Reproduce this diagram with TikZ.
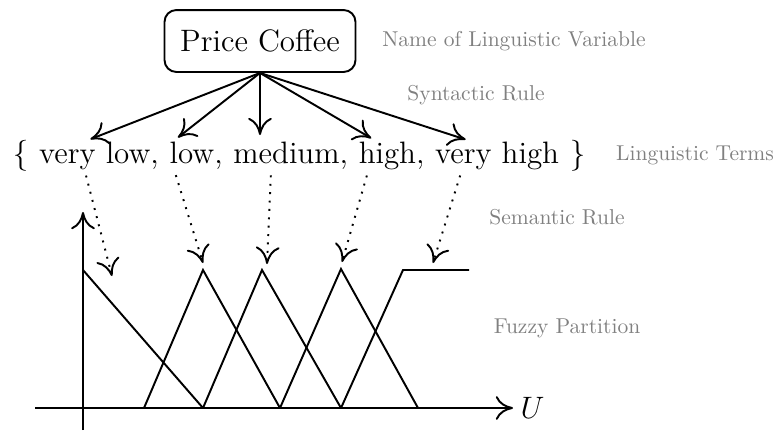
\documentclass[tikz,border=0pt]{standalone}
\usetikzlibrary{arrows.meta, positioning, calc}
\definecolor{LabelGray}{HTML}{808080}

\begin{document}
\begin{tikzpicture}[x=0.465pt, y=-0.465pt,
    varbox/.style={rectangle, rounded corners=5.5pt, draw, line width=0.9pt,
                   minimum width=88.8pt, minimum height=28.8pt, font=\Large},
    term/.style={inner sep=0pt, outer sep=0pt, font=\Large},
    note/.style={font=\normalsize, text=LabelGray},
    arr/.style={-{To[length=8pt, width=11pt]}, line width=0.9pt},
    syn/.style={arr, shorten >=3pt},
    sem/.style={arr, dash pattern=on 0.9pt off 3pt, shorten <=3pt},
    mf/.style={line width=0.9pt},
    node distance=5pt
  ]
    \useasboundingbox (0,0) rectangle (782,432);

    % linguistic variable
    \node[varbox] (coffee) at (260,41) {Price Coffee};

    % terms
    \node[term, anchor=base west] (lbr) at (13,163) {\{};
    \node[term, base right=of lbr] (vlow) {very low,};
    \node[term, base right=of vlow] (low) {low,};
    \node[term, base right=of low] (med) {medium,};
    \node[term, base right=of med] (high) {high,};
    \node[term, base right=of high] (vhigh) {very high};
    \node[term, base right=of vhigh] (rbr) {\}};

    % side labels
    \node[note] (lname) at (514,41) {Name of Linguistic Variable};
    \node[note] (lsyn) at (476,95) {Syntactic Rule};
    \node[note] (lterms) at (695,155) {Linguistic Terms};
    \node[note] (lsem) at (557,217) {Semantic Rule};
    \node[note] (lfuzzy) at (567,328) {Fuzzy Partition};

    % syntactic rule
    \draw[syn] (coffee.south) -- ([xshift=21pt]vlow.north west);
    \draw[syn] (coffee.south) -- ([xshift=1.5pt]low.north west);
    \draw[syn] (coffee.south) -- (coffee.south |- med.north);
    \draw[syn] (coffee.south) -- ([xshift=8.4pt]high.north west);
    \draw[syn] (coffee.south) -- ([xshift=17pt]vhigh.north west);

    % fuzzy partition
    \node[font=\Large, anchor=west] (U) at (513,408) {$U$};
    \draw[arr] (35,408) -- (U.west);
    \draw[arr] (83,430) -- (83,212);
    \draw[mf] (83,270) -- (203,408);
    \draw[mf] (144,408) -- (203,270) -- (280,408);
    \draw[mf] (203,408) -- (262,270) -- (341,408);
    \draw[mf] (280,408) -- (341,269) -- (418,408);
    \draw[mf] (341,408) -- (403,270) -- (469,270);

    \coordinate (tVL) at (112,276);
    \coordinate (tL) at (203,263);
    \coordinate (tM) at (267,264);
    \coordinate (tH) at (342,262);
    \coordinate (tVH) at (433,263);

    % semantic rule
    \draw[sem] ([xshift=21pt]vlow.south west) -- (tVL);
    \draw[sem] ([xshift=2pt]low.south west) -- (tL);
    \draw[sem] ([xshift=17.5pt]med.south west) -- (tM);
    \draw[sem] ([xshift=4.6pt]high.south west) -- (tH);
    \draw[sem] ([xshift=12.5pt]vhigh.south west) -- (tVH);
\end{tikzpicture}
\end{document}
